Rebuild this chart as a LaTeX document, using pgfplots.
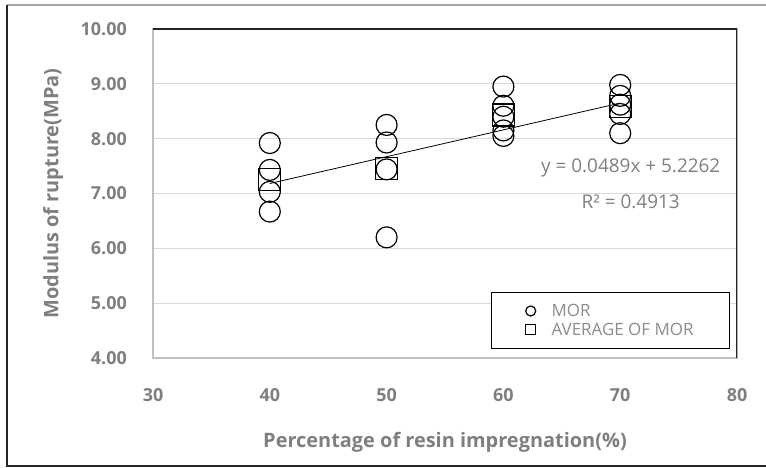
\documentclass[border=0pt]{standalone}
\usepackage{pgfplots}
\pgfplotsset{compat=1.18}
\usepackage{fontspec}
\setmainfont{Open Sans}
\definecolor{txtgray}{HTML}{7F7F7F}
\definecolor{leggray}{HTML}{8C8C8C}
\definecolor{gridgray}{HTML}{D9D9D9}
\definecolor{axgray}{HTML}{BFBFBF}

\begin{document}
\begin{tikzpicture}[x=1bp,y=1bp]
\useasboundingbox (0,0) rectangle (766,468);
% outer chart frame
\draw[gray!70, line width=1.5bp] (7,463) -- (766,463);
\draw[black!85, line width=1.2bp] (7,463) -- (7,2) -- (766,2);

\begin{axis}[
    at={(153bp,110bp)},
    anchor=south west,
    scale only axis,
    width=584bp,
    height=329bp,
    xmin=30, xmax=80,
    ymin=4, ymax=10,
    xtick={30,40,...,80},
    ytick={4,5,...,10},
    yticklabel style={/pgf/number format/fixed, /pgf/number format/fixed zerofill, /pgf/number format/precision=2},
    /pgf/number format/assume math mode=true,
    ticklabel style={font=\fontsize{18}{20}\selectfont\bfseries, text=txtgray, inner sep=0pt},
    yticklabel style={xshift=-26bp},
    xticklabel style={yshift=-30bp},
    major tick length=0pt,
    ymajorgrids=true,
    grid style={gridgray, line width=1bp},
    axis line style={axgray, line width=1.2bp},
    xlabel={Percentage of resin impregnation(\%)},
    ylabel={Modulus of rupture(MPa)},
    label style={font=\fontsize{20}{24}\selectfont\bfseries, text=txtgray},
    xlabel style={at={(axis description cs:0.5,-0.255)}, anchor=center},
    ylabel style={at={(axis description cs:-0.171,0.5)}, anchor=center},
    legend style={at={(0.988,0.027)}, anchor=south east, draw=black, line width=1bp,
        font=\fontsize{17}{20}\selectfont, text=leggray, inner xsep=34bp, inner ysep=10bp,
        column sep=14bp, row sep=1bp},
    legend cell align=left,
    legend image post style={mark size=5bp},
]

% individual MOR measurements
\addplot[only marks, mark=o, mark size=10.5bp, black, line width=1.2bp] coordinates {
    (40,7.92) (40,7.43) (40,7.03) (40,6.67)
    (50,8.25) (50,7.93) (50,7.44) (50,6.20)
    (60,8.95) (60,8.60) (60,8.40) (60,8.15) (60,8.05)
    (70,8.98) (70,8.78) (70,8.62) (70,8.45) (70,8.10)
};
\addlegendentry{MOR}

% averages
\addplot[only marks, mark=square, mark size=11bp, black, line width=1.2bp] coordinates {
    (40,7.26) (50,7.455) (60,8.43) (70,8.586)
};
\addlegendentry{AVERAGE OF MOR}

% linear trend y = 0.0489x + 5.2262
\addplot[black, line width=0.8bp, forget plot] coordinates {
    (40,7.1822) (70,8.6492)
};

\node[text=txtgray, font=\fontsize{19}{22}\selectfont] at (axis cs:70.9,7.46) {y = 0.0489x + 5.2262};
\node[text=txtgray, font=\fontsize{19}{22}\selectfont] at (axis cs:70.9,6.84) {R² = 0.4913};

% dark top and right edges of the plot area
\draw[black!85, line width=1.2bp] (rel axis cs:0,1) -- (rel axis cs:1,1) -- (rel axis cs:1,0);
\end{axis}
\end{tikzpicture}
\end{document}
